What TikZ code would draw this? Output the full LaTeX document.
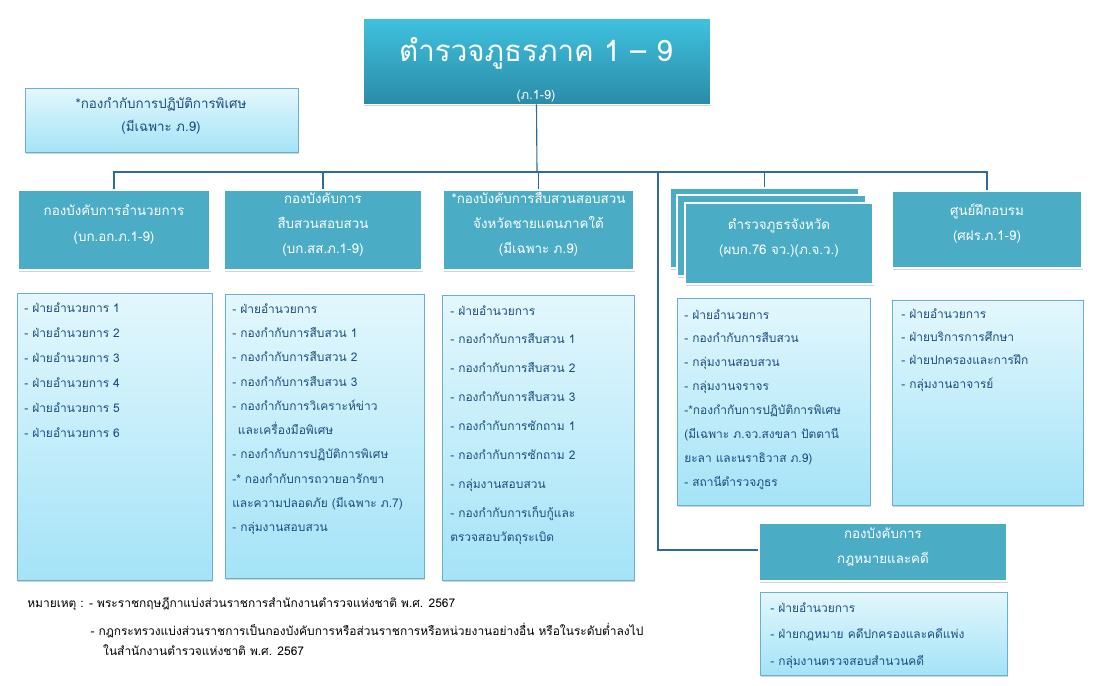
\documentclass[tikz,border=0pt]{standalone}
\usepackage{fontspec}
\setmainfont[Script=Thai]{Loma}
\usepackage{xcolor}
\usetikzlibrary{fit,shadows,calc,positioning}

\definecolor{headfill}{HTML}{4BACC6}
\definecolor{topup}{HTML}{3FC2DF}
\definecolor{topdown}{HTML}{2A8BA8}
\definecolor{listup}{HTML}{E3F7FD}
\definecolor{listdown}{HTML}{A4E3F7}
\definecolor{listline}{HTML}{6AAFCB}
\definecolor{listtext}{HTML}{1B4D7E}
\definecolor{linkblue}{HTML}{2F6A9C}

\begin{document}
\begin{tikzpicture}[x=0.025cm, y=-0.025cm,
  every node/.style={font=\fontsize{8.5}{17}\selectfont},
  conn/.style={draw=linkblue, line width=0.8pt},
  shad/.style={drop shadow={shadow xshift=0.6pt, shadow yshift=-1.4pt, opacity=0.35}},
  topbox/.style={inner sep=0pt, top color=topup, bottom color=topdown,
                 draw=white, line width=0.6pt, shad},
  headbox/.style={inner sep=0pt, fill=headfill, draw=white, line width=1.2pt,
                  shad, text=white, align=center, font=\fontsize{9.5}{18}\selectfont},
  listbox/.style={inner sep=0pt, top color=listup, bottom color=listdown,
                  draw=listline, line width=0.6pt, shad},
  listtxt/.style={inner sep=0pt, anchor=north west, align=left, text=listtext},
  notetxt/.style={inner sep=0pt, anchor=north west, align=left,
                  font=\fontsize{8.5}{14}\selectfont}
]
\useasboundingbox (0,0) rectangle (1099,685);

%% top and special unit
\node[topbox, fit={(363,18) (710,104)}] (top) {};
\node[text=white, align=center] (toptxt) at (536,70)
  {{\fontsize{21}{30}\selectfont ตำรวจภูธรภาค 1 – 9}\\[10pt]
   {\fontsize{9}{12}\selectfont (ภ.1-9)}};
\node[listbox, fit={(25,88) (298,152)}] (spec) {};
\node[text=listtext, align=center, font=\fontsize{9.5}{16.5}\selectfont]
  (spectxt) at (161,116) {*กองกำกับการปฏิบัติการพิเศษ\\(มีเฉพาะ ภ.9)};

%% header row
\node[headbox, fit={(18,190) (210,270)}] (hadm)
  {กองบังคับการอำนวยการ\\(บก.อก.ภ.1-9)};
\node[headbox, fit={(224,190) (422,270)}] (hinv)
  {กองบังคับการ\\สืบสวนสอบสวน\\(บก.สส.ภ.1-9)};
\node[headbox, fit={(443,190) (634,270)}] (hsou)
  {*กองบังคับการสืบสวนสอบสวน\\จังหวัดชายแดนภาคใต้\\(มีเฉพาะ ภ.9)};
\node[headbox, fit={(670,188) (859,268)}] (hprv3) {};
\node[headbox, fit={(677,195) (866,276)}] (hprv2) {};
\node[headbox, fit={(685,203) (873,284)}] (hprv)
  {ตำรวจภูธรจังหวัด\\(ผบก.76 จว.)(ภ.จ.ว.)};
\node[headbox, fit={(892,191) (1082,268)}] (htrn)
  {ศูนย์ฝึกอบรม\\(ศฝร.ภ.1-9)};
\node[headbox, fit={(759,523) (1007,581)}] (hlaw)
  {กองบังคับการ\\กฎหมายและคดี};

%% connectors
\coordinate (bus) at (537,172);
\coordinate (lawdrop) at (658,172);
\draw[conn] (top.south) -- (bus);
\draw[conn] ($(spec.east)+(0,12)$) -- ($(spec.east)+(0,12)$ -| top.south);
\draw[conn] (hadm.north) |- (bus) -| (htrn.north);
\draw[conn] (hinv.north) -- (hinv.north |- bus);
\draw[conn] (hsou.north) -- (hsou.north |- bus);
\draw[conn] (hprv3.north) -- (hprv3.north |- bus);
\draw[conn] (lawdrop) |- ($(hlaw.west)+(0,-2)$);

%% lists
\node[listbox, fit={(17,293) (212,580)}] (ladm) {};
\node[listtxt, font=\fontsize{8.5}{17.8}\selectfont] (tadm) at (24,302)
  {- ฝ่ายอำนวยการ 1\\- ฝ่ายอำนวยการ 2\\- ฝ่ายอำนวยการ 3\\
   - ฝ่ายอำนวยการ 4\\- ฝ่ายอำนวยการ 5\\- ฝ่ายอำนวยการ 6};

\node[listbox, fit={(225,294) (424,578)}] (linv) {};
\node[listtxt, font=\fontsize{8.5}{17.3}\selectfont] (tinv) at (232,303)
  {- ฝ่ายอำนวยการ\\- กองกำกับการสืบสวน 1\\- กองกำกับการสืบสวน 2\\
   - กองกำกับการสืบสวน 3\\- กองกำกับการวิเคราะห์ข่าว\\
   \hspace*{4pt}และเครื่องมือพิเศษ\\- กองกำกับการปฏิบัติการพิเศษ\\
   -* กองกำกับการถวายอารักขา\\และความปลอดภัย (มีเฉพาะ ภ.7)\\
   - กลุ่มงานสอบสวน};

\node[listbox, fit={(442,295) (634,580)}] (lsou) {};
\node[listtxt, font=\fontsize{8.5}{20.6}\selectfont] (tsou) at (450,305)
  {- ฝ่ายอำนวยการ\\- กองกำกับการสืบสวน 1\\- กองกำกับการสืบสวน 2\\
   - กองกำกับการสืบสวน 3\\- กองกำกับการซักถาม 1\\- กองกำกับการซักถาม 2\\
   - กลุ่มงานสอบสวน\\- กองกำกับการเก็บกู้และ\\[-4pt]ตรวจสอบวัตถุระเบิด};

\node[listbox, fit={(677,298) (870,505)}] (lprv) {};
\node[listtxt, font=\fontsize{8.5}{17}\selectfont] (tprv) at (684,309)
  {- ฝ่ายอำนวยการ\\- กองกำกับการสืบสวน\\- กลุ่มงานสอบสวน\\- กลุ่มงานจราจร\\
   -*กองกำกับการปฏิบัติการพิเศษ\\(มีเฉพาะ ภ.จว.สงขลา ปัตตานี\\
   ยะลา และนราธิวาส ภ.9)\\- สถานีตำรวจภูธร};

\node[listbox, fit={(892,300) (1083,505)}] (ltrn) {};
\node[listtxt, font=\fontsize{8.5}{16.7}\selectfont] (ttrn) at (901,308)
  {- ฝ่ายอำนวยการ\\- ฝ่ายบริการการศึกษา\\- ฝ่ายปกครองและการฝึก\\
   - กลุ่มงานอาจารย์};

\node[listbox, fit={(760,592) (1007,675)}] (llaw) {};
\node[listtxt, font=\fontsize{8.5}{19}\selectfont] (tlaw) at (770,602)
  {- ฝ่ายอำนวยการ\\- ฝ่ายกฎหมาย คดีปกครองและคดีแพ่ง\\- กลุ่มงานตรวจสอบสำนวนคดี};

%% remarks
\node[notetxt] (note) at (27,597)
  {หมายเหตุ : - พระราชกฤษฎีกาแบ่งส่วนราชการสำนักงานตำรวจแห่งชาติ พ.ศ. 2567\\[6pt]
   \hspace*{45pt}- กฎกระทรวงแบ่งส่วนราชการเป็นกองบังคับการหรือส่วนราชการหรือหน่วยงานอย่างอื่น หรือในระดับต่ำลงไป\\
   \hspace*{54pt}ในสำนักงานตำรวจแห่งชาติ พ.ศ. 2567};
\end{tikzpicture}
\end{document}
